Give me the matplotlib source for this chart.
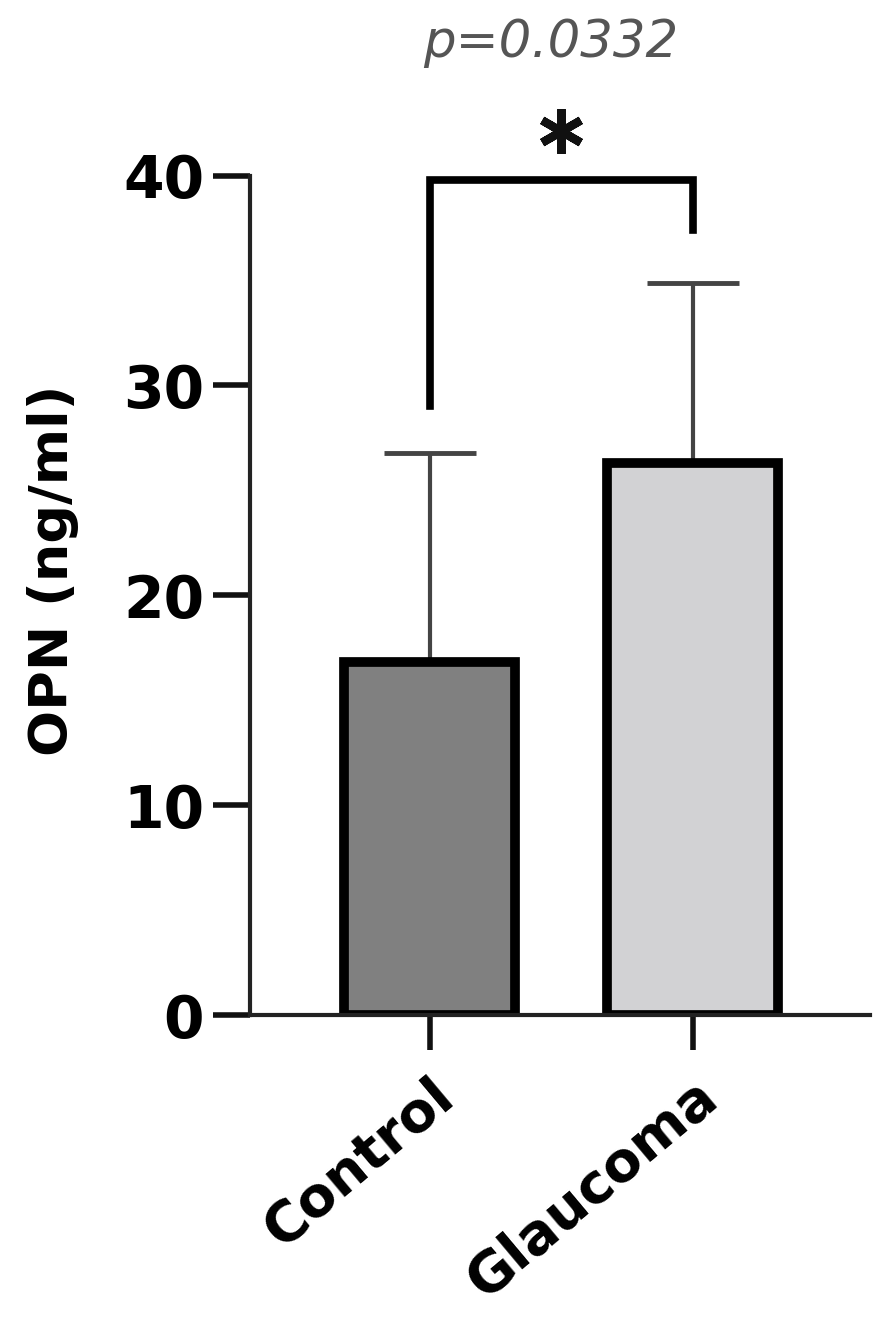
import numpy as np
import matplotlib.pyplot as plt
from matplotlib.transforms import ScaledTranslation

plt.rcParams['font.family'] = ['DejaVu Sans']

# 数据
groups = ['Control', 'Glaucoma']
means = [16.8, 26.3]
sd = [10.0, 8.6]
bar_colors = ['#808080', '#d2d2d4']
yticks = [0, 10, 20, 30, 40]
p_text = 'p=0.0332'
bracket_y = 39.8
bracket_left_end = 29.0
bracket_right_end = 37.4

fig = plt.figure(figsize=(8.92, 13.2), dpi=100)
ax = fig.add_axes([0.2803, 0.231, 0.695, 0.636])

x = np.arange(len(groups))
ax.bar(x, means, width=0.65, color=bar_colors, edgecolor='black', linewidth=7, zorder=2)
ax.errorbar(x, means, yerr=[np.zeros(len(sd)), sd], fmt='none', ecolor='#444444',
            elinewidth=3, capsize=33, capthick=3.5, zorder=1)

ax.set_xlim(-0.684, 1.673)
ax.set_ylim(0, 40)
ax.set_yticks(yticks)
ax.set_xticks(x)
ax.set_xticklabels(groups, rotation=40, ha='right', rotation_mode='anchor',
                   fontsize=40, fontweight='bold')
shift = ScaledTranslation(-8 / 100, -4 / 100, fig.dpi_scale_trans)
for lab in ax.get_xticklabels():
    lab.set_transform(lab.get_transform() + shift)
ax.set_yticklabels([str(t) for t in yticks], fontsize=42, fontweight='bold')
ax.set_ylabel('OPN (ng/ml)', fontsize=39, fontweight='bold', va='center')
ax.yaxis.set_label_coords(-0.318, 0.53)

for s in ['top', 'right']:
    ax.spines[s].set_visible(False)
for s in ['left', 'bottom']:
    ax.spines[s].set_linewidth(3)
    ax.spines[s].set_color('#222222')
ax.tick_params(axis='y', length=27, width=4, pad=6, color='#111111')
ax.tick_params(axis='x', length=25, width=4, pad=14, color='#111111')

# 显著性标记
ax.plot([0, 0, 1, 1], [bracket_left_end, bracket_y, bracket_y, bracket_right_end],
        color='black', linewidth=5.5, clip_on=False, solid_joinstyle='miter')
ax.plot(0.5, bracket_y + 2.3, marker=(6, 2, 0), ms=32, mew=6, color='#111111', clip_on=False)
ax.text(0.46, bracket_y + 6.5, p_text, ha='center', va='center', fontsize=37, style='italic',
        color='#555555')

fig.savefig('out.png', dpi=100)
